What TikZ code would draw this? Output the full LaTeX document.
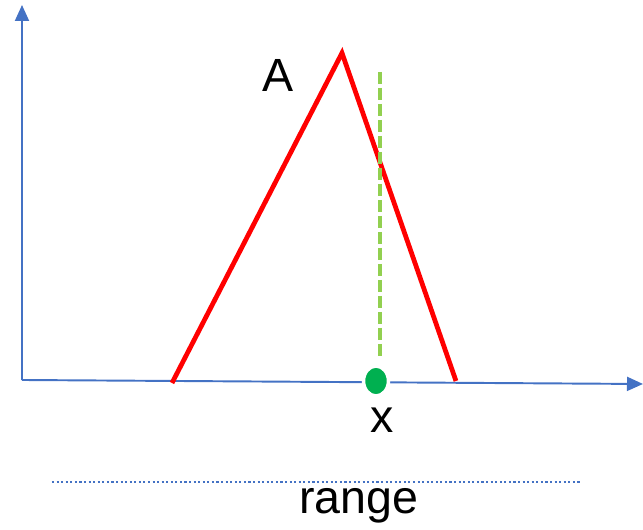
\documentclass[tikz,border=0pt]{standalone}
\usepackage{fontspec}
\setmainfont{Liberation Sans}
\usepackage{tikz}
\usetikzlibrary{arrows.meta,positioning,shapes.geometric}
\definecolor{axis_blue}{RGB}{68,114,196}
\definecolor{peak_red}{RGB}{255,0,0}
\definecolor{mark_green}{RGB}{146,208,80}
\definecolor{dot_green}{RGB}{0,176,80}

\begin{document}
\begin{tikzpicture}[font=\fontsize{26.5}{30}\selectfont,
          ax/.style={axis_blue, line width=1.1pt, -{Triangle[width=0.28cm,length=0.32cm]}},
          tri/.style={peak_red, line width=2.7pt},
          xline/.style={mark_green, line width=2.2pt, dash pattern=on 0.24cm off 0.08cm},
          pt/.style={ellipse, fill=dot_green, draw=white, line width=2pt,
                     minimum width=0.5cm, minimum height=0.6cm, inner sep=0pt},
          lbl/.style={inner sep=0pt}]
        \useasboundingbox (0,0) rectangle (12.86,10.6);
        % axes
        \coordinate (org)   at (0.44,3.0);
        \coordinate (ytop)  at (0.44,10.5);
        \coordinate (xend)  at (12.86,2.92);
        \draw[ax] (org) -- (ytop);
        \draw[ax] (org) -- (xend);
        % triangle
        \coordinate (left)  at (3.44,2.94);
        \coordinate (peak)  at (6.84,9.54);
        \coordinate (right) at (9.12,2.98);
        \draw[tri, line join=miter] (left) -- (peak) -- (right);
        \node[lbl] (labA) at (5.56,9.1) {A};
        % point x
        \coordinate (mtop) at (7.6,9.16);
        \coordinate (mbot) at (7.6,3.4);
        \draw[xline] (mtop) -- (mbot);
        \node[pt] (dot) at (7.52,2.98) {};
        \node[lbl] (labx) at (7.64,2.2) {x};
        % range
        \coordinate (rl) at (1.04,0.96);
        \coordinate (rr) at (11.6,0.96);
        \draw[axis_blue, line width=1pt, dash pattern=on 1.2pt off 1.4pt] (rl) -- (rr);
        \node[lbl] (range) at (7.18,0.48) {range};
      \end{tikzpicture}
\end{document}
